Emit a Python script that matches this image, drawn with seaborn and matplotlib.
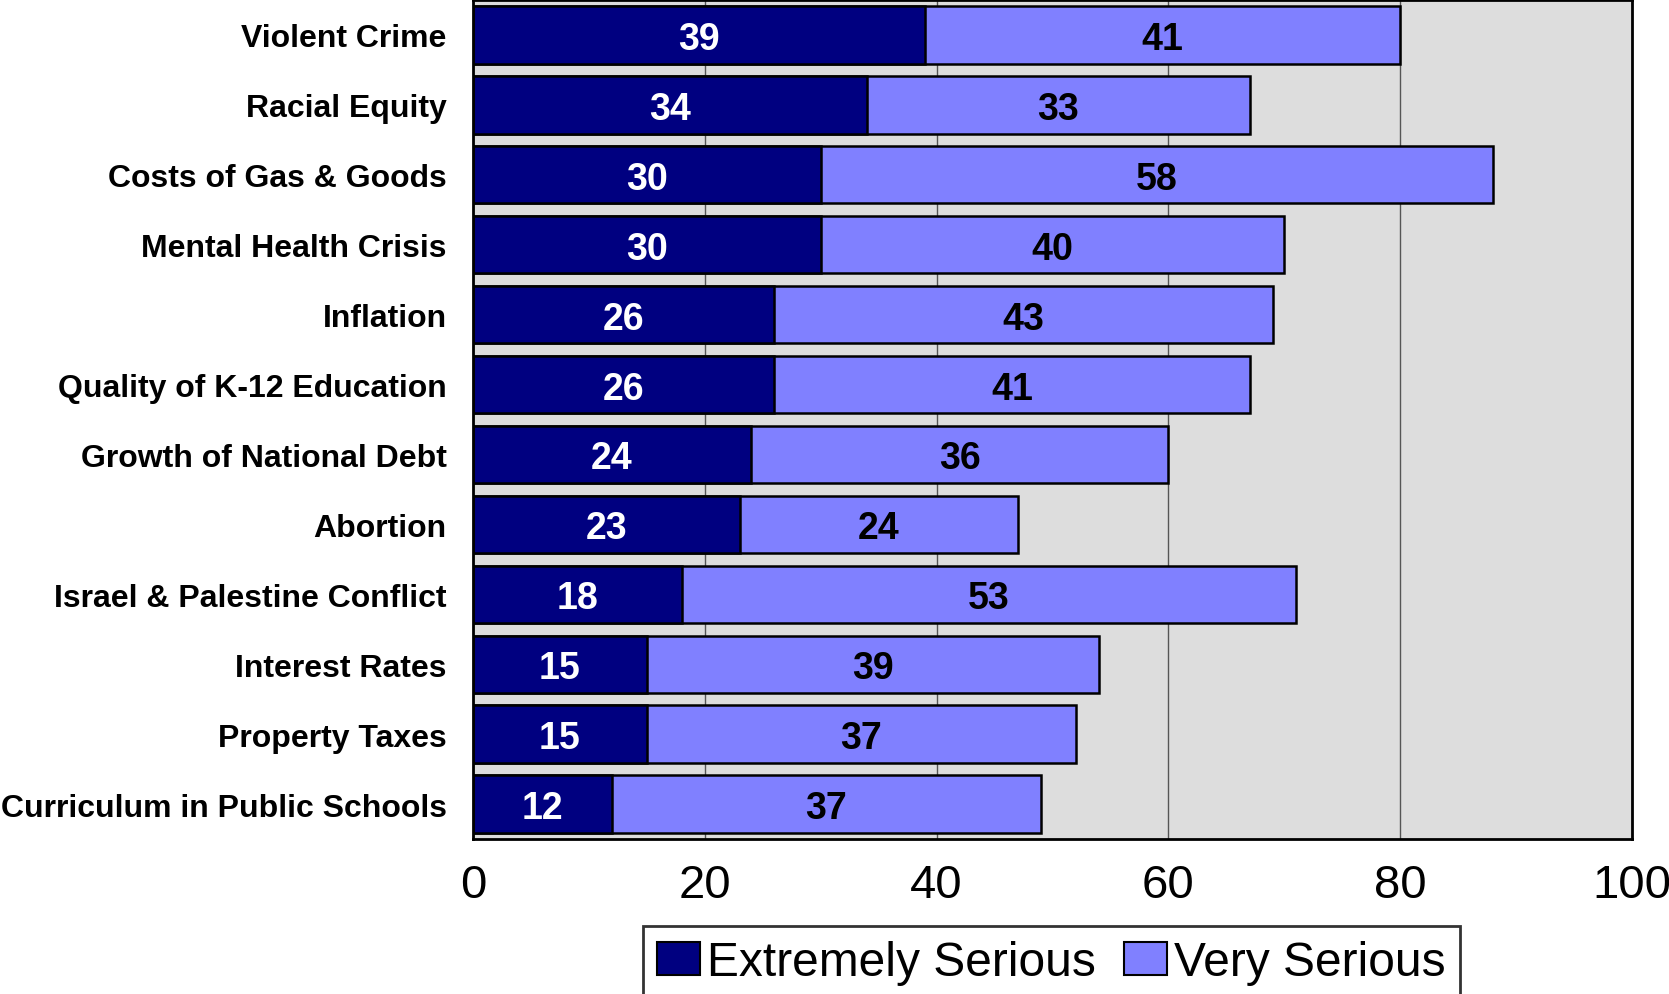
import pandas as pd
import seaborn as sns
import matplotlib.pyplot as plt
from matplotlib.patches import Patch

# Survey values (percent)
categories = ['Violent Crime', 'Racial Equity', 'Costs of Gas & Goods', 'Mental Health Crisis',
              'Inflation', 'Quality of K-12 Education', 'Growth of National Debt', 'Abortion',
              'Israel & Palestine Conflict', 'Interest Rates', 'Property Taxes',
              'Curriculum in Public Schools']
extremely = [39, 34, 30, 30, 26, 26, 24, 23, 18, 15, 15, 12]
very = [41, 33, 58, 40, 43, 41, 36, 24, 53, 39, 37, 37]
x_ticks = [0, 20, 40, 60, 80, 100]

navy = '#000080'
lilac = '#8080ff'

df = pd.DataFrame({'issue': categories, 'extremely': extremely, 'very': very})
df['total'] = df['extremely'] + df['very']

sns.set_style('white')
plt.rcParams['font.family'] = ['Liberation Sans', 'DejaVu Sans']
plt.rcParams['text.color'] = 'black'
plt.rcParams['xtick.color'] = 'black'
plt.rcParams['ytick.color'] = 'black'
narrow = ['Liberation Sans Narrow', 'Liberation Sans', 'DejaVu Sans']

fig = plt.figure(figsize=(16.69, 9.95), dpi=100, facecolor='white')
ax = fig.add_axes([473 / 1669, 1 - 840 / 995, (1632 - 473) / 1669, 839 / 995])
ax.set_facecolor('#dddddd')

# full bar (very serious) underneath, extremely serious drawn over it
sns.barplot(data=df, x='total', y='issue', color=lilac, saturation=1, width=0.82,
            edgecolor='black', linewidth=1.8, errorbar=None, ax=ax)
sns.barplot(data=df, x='extremely', y='issue', color=navy, saturation=1, width=0.82,
            edgecolor='black', linewidth=1.8, errorbar=None, ax=ax)

for i, row in df.iterrows():
    ax.text(row['extremely'] / 2, i, str(row['extremely']), ha='center', va='center_baseline',
            color='white', fontsize=27, fontweight='bold')
    ax.text(row['extremely'] + row['very'] / 2, i, str(row['very']), ha='center',
            va='center_baseline', color='black', fontsize=27, fontweight='bold')

ax.set_xlim(0, 100)
ax.set_ylim(len(categories) - 0.5, -0.5)
ax.set_xticks(x_ticks)
ax.set_xticklabels([str(t) for t in x_ticks], family=narrow, fontsize=34)
ax.set_yticks(range(len(categories)))
ax.set_yticklabels(categories, fontsize=23, fontweight='bold')
ax.tick_params(axis='x', length=0, pad=17)
ax.tick_params(axis='y', length=0, pad=19)
ax.set_xlabel('')
ax.set_ylabel('')

ax.set_axisbelow(True)
ax.grid(axis='x', color='#555555', linewidth=1)
ax.grid(axis='y', visible=False)
for s in ax.spines.values():
    s.set_visible(True)
    s.set_color('black')
    s.set_linewidth(2)

handles = [Patch(facecolor=navy, edgecolor='black', linewidth=1.5, label='Extremely Serious'),
           Patch(facecolor=lilac, edgecolor='black', linewidth=1.5, label='Very Serious')]
leg = fig.legend(handles=handles, loc='upper left', bbox_to_anchor=(643 / 1669, 1 - 927 / 995),
                 ncol=2, fontsize=34.5, frameon=True, fancybox=False, borderaxespad=0,
                 handlelength=0.88, handleheight=0.68, handletextpad=0.15, columnspacing=0.6,
                 borderpad=0.3)
leg.get_frame().set_edgecolor('black')
leg.get_frame().set_linewidth(2)

fig.savefig('out.png', dpi=100, facecolor='white')
